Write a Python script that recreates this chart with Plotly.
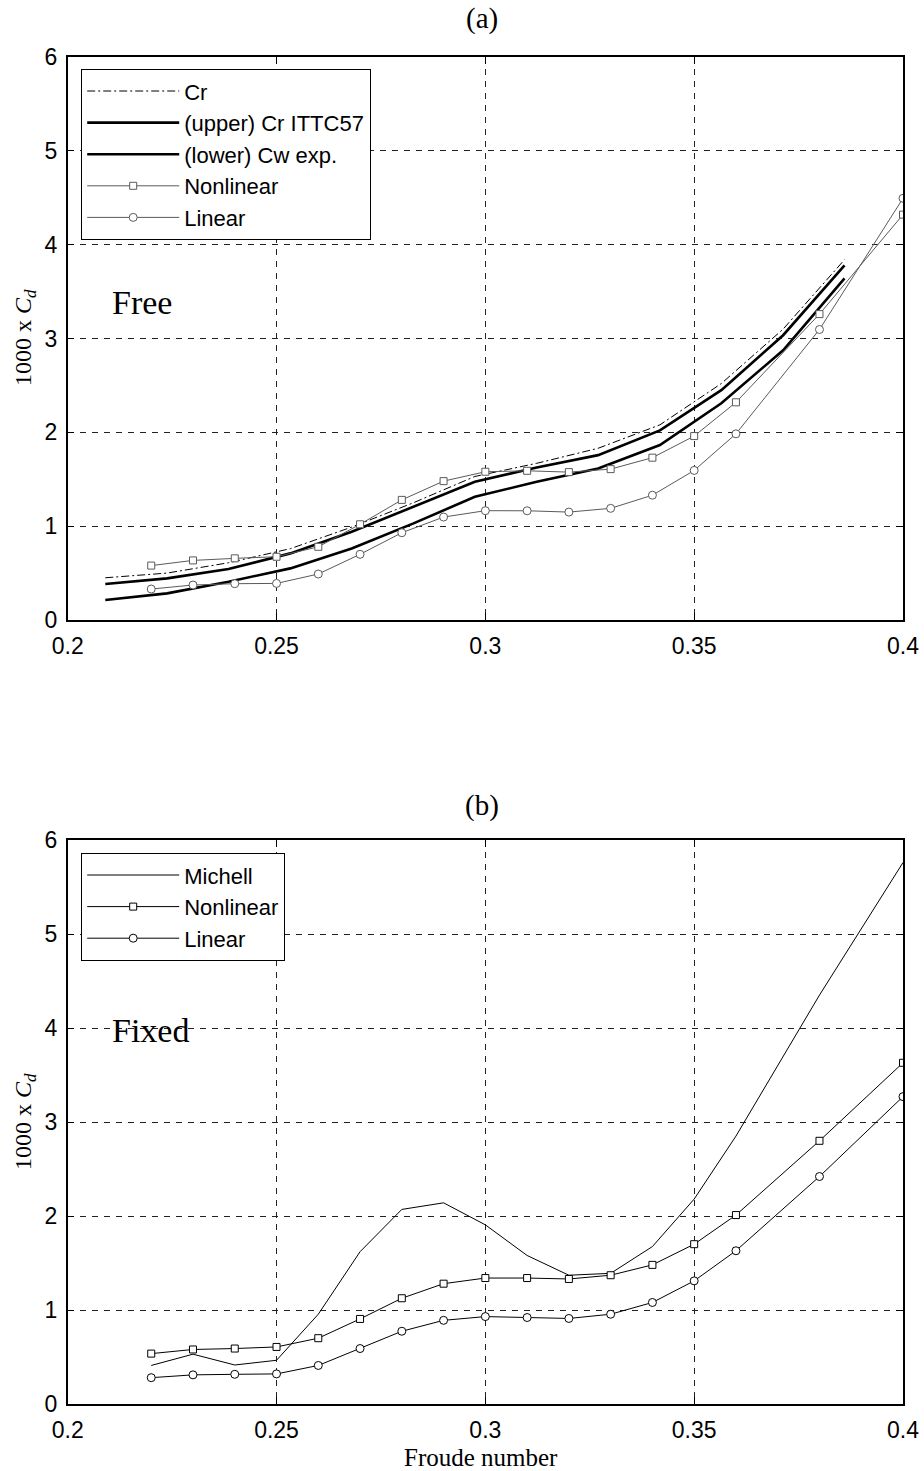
import plotly.graph_objects as go

# ---------------- (a) Free ----------------
fr_exp = [0.209, 0.2238, 0.2385, 0.2533, 0.268, 0.2828, 0.2975, 0.3123,
          0.327, 0.3418, 0.3565, 0.3713, 0.386]
cr_total = [0.45, 0.50, 0.61, 0.76, 0.99, 1.25, 1.53, 1.67, 1.83, 2.08,
            2.52, 3.10, 3.84]
cr_ittc57 = [0.383, 0.444, 0.543, 0.71, 0.94, 1.207, 1.473, 1.626, 1.757,
             2.02, 2.45, 3.035, 3.78]
cw_exp = [0.213, 0.284, 0.408, 0.55, 0.763, 1.03, 1.313, 1.473, 1.615,
          1.864, 2.31, 2.875, 3.64]

fr_calc = [0.22, 0.23, 0.24, 0.25, 0.26, 0.27, 0.28, 0.29, 0.30, 0.31,
           0.32, 0.33, 0.34, 0.35, 0.36, 0.38, 0.40]
free_nonlinear = [0.58, 0.635, 0.657, 0.674, 0.78, 1.02, 1.28, 1.48, 1.58,
                  1.59, 1.576, 1.608, 1.73, 1.96, 2.32, 3.26, 4.32]
free_linear = [0.33, 0.373, 0.387, 0.39, 0.49, 0.70, 0.93, 1.097, 1.165,
               1.164, 1.15, 1.19, 1.33, 1.594, 1.984, 3.096, 4.494]

# ---------------- (b) Fixed ----------------
fixed_michell = [0.41, 0.53, 0.415, 0.465, 0.955, 1.62, 2.07, 2.14, 1.906,
                 1.58, 1.37, 1.39, 1.675, 2.18, 2.85, 4.35, 5.76]
fixed_nonlinear = [0.536, 0.58, 0.59, 0.607, 0.70, 0.905, 1.125, 1.28, 1.34,
                   1.34, 1.33, 1.37, 1.48, 1.70, 2.01, 2.80, 3.63]
fixed_linear = [0.28, 0.31, 0.316, 0.32, 0.41, 0.59, 0.774, 0.89, 0.93,
                0.92, 0.91, 0.955, 1.08, 1.31, 1.63, 2.42, 3.27]

x_ticks = [0.2, 0.25, 0.3, 0.35, 0.4]
x_tick_text = ["0.2", "0.25", "0.3", "0.35", "0.4"]
y_ticks = [0, 1, 2, 3, 4, 5, 6]

W, H = 924, 1471
SANS = "Liberation Sans, Arial, sans-serif"
SERIF = "Liberation Serif, Times New Roman, serif"
GRAY = "#5a5a5a"

fig = go.Figure()

# panel (a)
fig.add_trace(go.Scatter(x=fr_exp, y=cr_total, name="Cr", mode="lines",
                         line=dict(color="black", width=1, dash="8px,3px,2px,3px"),
                         xaxis="x", yaxis="y", legend="legend"))
fig.add_trace(go.Scatter(x=fr_exp, y=cr_ittc57, name="(upper) Cr ITTC57", mode="lines",
                         line=dict(color="black", width=2.6),
                         xaxis="x", yaxis="y", legend="legend"))
fig.add_trace(go.Scatter(x=fr_exp, y=cw_exp, name="(lower) Cw exp.", mode="lines",
                         line=dict(color="black", width=2.6),
                         xaxis="x", yaxis="y", legend="legend"))
fig.add_trace(go.Scatter(x=fr_calc, y=free_nonlinear, name="Nonlinear", mode="lines+markers",
                         line=dict(color=GRAY, width=1),
                         marker=dict(symbol="square", size=7, color="white",
                                     line=dict(color=GRAY, width=1)),
                         xaxis="x", yaxis="y", legend="legend"))
fig.add_trace(go.Scatter(x=fr_calc, y=free_linear, name="Linear", mode="lines+markers",
                         line=dict(color=GRAY, width=1),
                         marker=dict(symbol="circle", size=8, color="white",
                                     line=dict(color=GRAY, width=1)),
                         xaxis="x", yaxis="y", legend="legend"))

# panel (b)
fig.add_trace(go.Scatter(x=fr_calc, y=fixed_michell, name="Michell", mode="lines",
                         line=dict(color="black", width=1),
                         xaxis="x2", yaxis="y2", legend="legend2"))
fig.add_trace(go.Scatter(x=fr_calc, y=fixed_nonlinear, name="Nonlinear", mode="lines+markers",
                         line=dict(color="black", width=1),
                         marker=dict(symbol="square", size=7, color="white",
                                     line=dict(color="black", width=1)),
                         xaxis="x2", yaxis="y2", legend="legend2"))
fig.add_trace(go.Scatter(x=fr_calc, y=fixed_linear, name="Linear", mode="lines+markers",
                         line=dict(color="black", width=1),
                         marker=dict(symbol="circle", size=8, color="white",
                                     line=dict(color="black", width=1)),
                         xaxis="x2", yaxis="y2", legend="legend2"))

x_dom = [67.7 / W, 903 / W]
top_dom = [(H - 620) / H, (H - 57) / H]
bot_dom = [(H - 1404) / H, (H - 840) / H]

axis_common = dict(showline=True, linecolor="black", linewidth=1.5, mirror="ticks",
                   ticks="inside", ticklen=7, tickcolor="black", tickwidth=1,
                   showgrid=True, gridcolor="#222222", gridwidth=1, griddash="6px,6px",
                   zeroline=False, automargin=False,
                   tickfont=dict(family=SANS, size=23, color="black"))

legend_common = dict(x=81 / W, xanchor="left", yanchor="top",
                     bgcolor="white", bordercolor="black", borderwidth=1.2,
                     font=dict(family=SANS, size=22, color="black"), itemwidth=92,
                     tracegroupgap=0)

fig.update_layout(
    template="none",
    width=W, height=H, margin=dict(l=0, r=0, t=0, b=0, pad=0, autoexpand=False),
    paper_bgcolor="white", plot_bgcolor="white", showlegend=True,
    xaxis=dict(domain=x_dom, range=[0.2, 0.4], tickvals=x_ticks, ticktext=x_tick_text,
               anchor="y", ticklabelstandoff=5, **axis_common),
    yaxis=dict(domain=top_dom, range=[0, 6], tickvals=y_ticks, anchor="x",
               ticklabelstandoff=4, **axis_common),
    xaxis2=dict(domain=x_dom, range=[0.2, 0.4], tickvals=x_ticks, ticktext=x_tick_text,
                anchor="y2", ticklabelstandoff=5, **axis_common),
    yaxis2=dict(domain=bot_dom, range=[0, 6], tickvals=y_ticks, anchor="x2",
                ticklabelstandoff=4, **axis_common),
    legend=dict(y=(H - 69) / H, **legend_common),
    legend2=dict(y=(H - 853) / H, **legend_common),
)

annos = [
    dict(text="(a)", x=482 / W, y=(H - 19) / H, font=dict(family=SERIF, size=29)),
    dict(text="(b)", x=482 / W, y=(H - 805) / H, font=dict(family=SERIF, size=29)),
    dict(text="Froude number", x=481 / W, y=(H - 1457) / H, font=dict(family=SERIF, size=25)),
    dict(text="1000 x <i>C</i><sub><i>d</i></sub>", x=25 / W, y=(H - 338) / H,
         textangle=-90, font=dict(family=SERIF, size=24)),
    dict(text="1000 x <i>C</i><sub><i>d</i></sub>", x=25 / W, y=(H - 1122) / H,
         textangle=-90, font=dict(family=SERIF, size=24)),
    dict(text="Free", x=142 / W, y=(H - 302) / H, font=dict(family=SERIF, size=34)),
    dict(text="Fixed", x=150 / W, y=(H - 1030) / H, font=dict(family=SERIF, size=34)),
]
for a in annos:
    a.update(xref="paper", yref="paper", showarrow=False, xanchor="center", yanchor="middle")
    a["font"]["color"] = "black"
    fig.add_annotation(**a)

fig.write_html("out.html")
